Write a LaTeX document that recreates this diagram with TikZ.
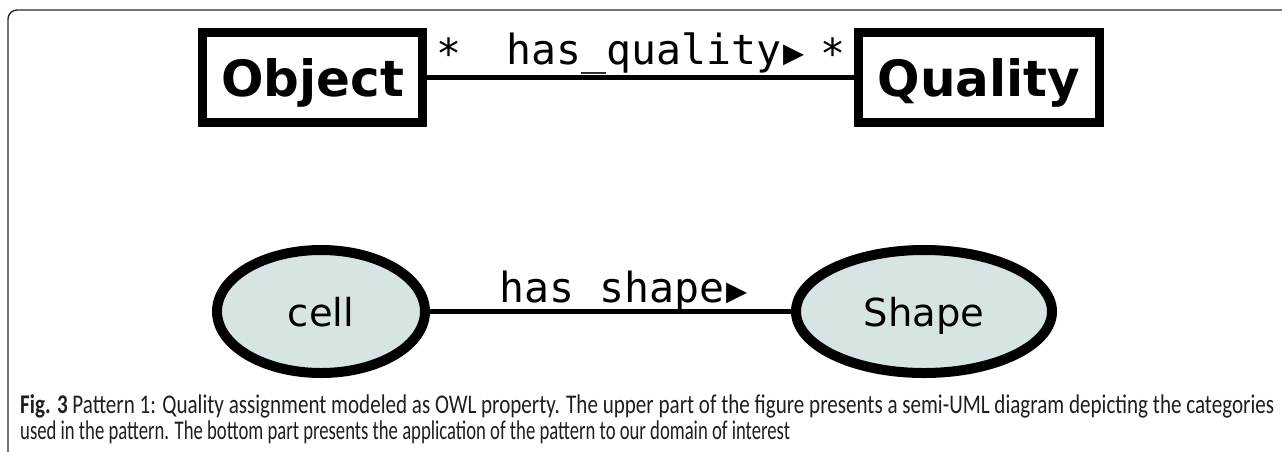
\documentclass[tikz,border=0pt]{standalone}
\usepackage{graphicx}
\usepackage{fontspec}
\setmonofont{DejaVu Sans Mono}
\newfontfamily\djsans{DejaVu Sans}
\newfontfamily\capfont{Carlito}
\definecolor{ellfill}{RGB}{215,228,228}
\definecolor{framecol}{RGB}{40,40,40}
\definecolor{captext}{RGB}{30,30,30}
\newcommand{\tri}{\hspace{2pt}{\fontsize{35}{40}\selectfont\symbol{"25B6}}}
\tikzset{
  umlbox/.style={draw=black, line width=9pt, inner sep=0pt, minimum height=90pt,
    font=\djsans\bfseries\fontsize{50}{60}\selectfont, text height=38pt, text depth=0pt},
  owlell/.style={ellipse, draw=black, fill=ellfill, line width=10pt, inner sep=0pt,
    minimum height=123pt, font=\djsans\fontsize{38.5}{46}\selectfont, text height=29pt, text depth=0pt},
  conn/.style={line width=5pt, draw=black},
  proplabel/.style={font=\ttfamily\fontsize{41.5}{50}\selectfont, inner sep=0pt, anchor=base west},
  multlabel/.style={font=\ttfamily\fontsize{41.5}{50}\selectfont, inner sep=0pt, anchor=base},
  caplabel/.style={font=\capfont\fontsize{27}{31}\selectfont, text=captext, inner sep=0pt, anchor=base west},
}
\usetikzlibrary{shapes.geometric}
\begin{document}
\begin{tikzpicture}[x=1pt,y=-1pt]
\useasboundingbox (0,0) rectangle (1282,451);
% frame
\draw[framecol, line width=1.4pt, rounded corners=9pt] (8,455) -- (8,10) -- (1290,10);
% upper part
\node[umlbox, minimum width=220pt] (obj) at (312.5,77.5) {Object};
\node[umlbox, minimum width=241pt] (qual) at (979,77.5) {Quality};
\draw[conn] (obj.east) -- (qual.west);
\node[multlabel] (m1) at (448.5,68) {*};
\node[multlabel] (m2) at (832.5,68) {*};
\node[proplabel] (hq) at (506,64) {has\_quality\tri};
% lower part
\node[owlell, minimum width=208pt] (cell) at (321,311.5) {cell};
\node[owlell, minimum width=256pt] (shape) at (924,311.5) {Shape};
\draw[conn] (cell.east) -- (shape.west);
\node[proplabel] (hs) at (499,302) {has\_shape\tri};
% caption
\node[caplabel] (cap1) at (20,413) {\resizebox{1254pt}{\height}{\textbf{Fig. 3} Pattern 1: Quality assignment modeled as OWL property. The upper part of the figure presents a semi-UML diagram depicting the categories}};
\node[caplabel] (cap2) at (20,439) {\resizebox{770pt}{\height}{used in the pattern. The bottom part presents the application of the pattern to our domain of interest}};
\end{tikzpicture}
\end{document}
